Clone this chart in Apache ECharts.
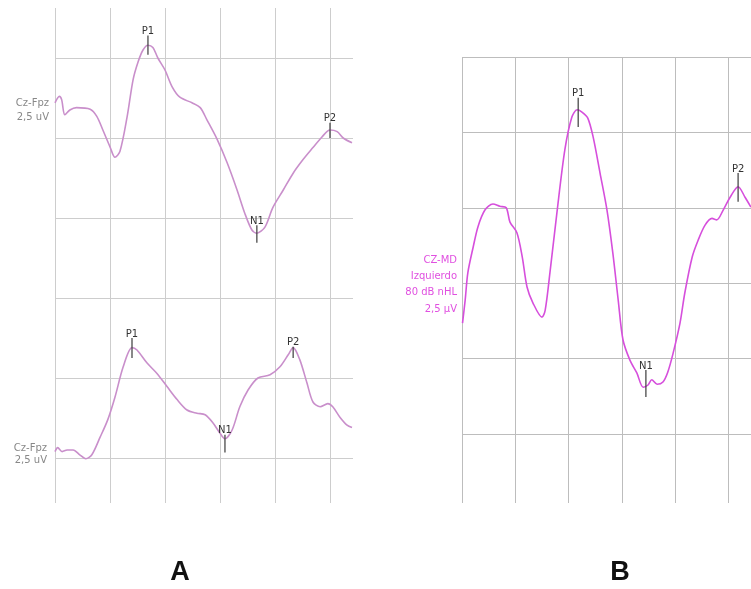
<!DOCTYPE html>
<html>
<head>
<meta charset="utf-8">
<script src="https://cdn.jsdelivr.net/npm/echarts@6/dist/echarts.min.js"></script>
<style>
html,body{margin:0;padding:0;background:#fff;}
#chart{width:751px;height:589px;}
</style>
</head>
<body>
<div id="chart"></div>
<script>
// ---- Data (x in grid divisions of time, y in grid divisions of amplitude) ----
// Panel A, upper trace (Cz-Fpz)
const aTopX = [0,0.08,0.12,0.18,0.27,0.39,0.64,0.76,0.87,1.00,1.09,1.18,1.31,1.42,1.51,1.60,1.69,1.78,1.87,2.00,2.13,2.27,2.49,2.64,2.76,2.95,3.13,3.31,3.45,3.58,3.67,3.82,3.96,4.15,4.33,4.51,4.69,4.85,5.00,5.13,5.24,5.40];
const aTopY = [4.44,4.52,4.48,4.29,4.35,4.38,4.36,4.27,4.10,3.89,3.76,3.83,4.26,4.73,4.95,5.10,5.16,5.13,5.00,4.85,4.64,4.51,4.44,4.38,4.23,3.98,3.69,3.35,3.06,2.85,2.81,2.89,3.13,3.35,3.56,3.73,3.88,4.01,4.10,4.08,4.00,3.94];
// Panel A, lower trace (Cz-Fpz)
const aBotX = [0,0.05,0.13,0.22,0.33,0.45,0.56,0.67,0.82,0.96,1.09,1.24,1.40,1.49,1.67,1.85,2.04,2.22,2.40,2.58,2.73,2.87,3.00,3.09,3.22,3.36,3.51,3.69,3.91,4.09,4.24,4.33,4.45,4.58,4.69,4.82,4.96,5.05,5.18,5.31,5.40];
const aBotY = [0.08,0.13,0.08,0.10,0.10,0.04,-0.01,0.04,0.26,0.48,0.76,1.14,1.38,1.35,1.19,1.06,0.89,0.73,0.60,0.56,0.54,0.44,0.31,0.24,0.35,0.64,0.85,1.00,1.04,1.14,1.29,1.38,1.23,0.94,0.70,0.64,0.68,0.64,0.51,0.41,0.38];
// Panel B trace (CZ-MD, Izquierdo, 80 dB nHL)
const bX = [0.01,0.06,0.11,0.21,0.30,0.43,0.58,0.71,0.83,0.90,1.03,1.13,1.22,1.33,1.50,1.56,1.65,1.78,1.93,2.06,2.16,2.25,2.36,2.46,2.59,2.72,2.83,2.93,3.02,3.15,3.28,3.40,3.49,3.56,3.66,3.77,3.86,3.96,4.09,4.18,4.32,4.43,4.56,4.69,4.78,4.90,5.03,5.18,5.31,5.42];
const bY = [1.47,1.78,2.14,2.48,2.75,2.97,3.05,3.02,3.00,2.81,2.67,2.35,1.95,1.74,1.55,1.64,2.14,2.93,3.77,4.20,4.30,4.27,4.19,3.94,3.46,2.97,2.40,1.78,1.25,0.98,0.81,0.62,0.65,0.72,0.66,0.69,0.82,1.07,1.47,1.87,2.35,2.57,2.77,2.86,2.84,2.97,3.14,3.28,3.14,3.01];

// Peak markers: name, x, tick top, tick bottom
const aTopPeakNames = ['P1','N1','P2'];
const aTopPeakX = [1.69,3.67,5.00];
const aTopPeakTop = [5.28,2.91,4.19];
const aTopPeakBot = [5.04,2.69,4.00];

const aBotPeakNames = ['P1','N1','P2'];
const aBotPeakX = [1.40,3.09,4.33];
const aBotPeakTop = [1.50,0.29,1.39];
const aBotPeakBot = [1.25,0.07,1.25];

const bPeakNames = ['P1','N1','P2'];
const bPeakX = [2.18,3.45,5.18];
const bPeakTop = [4.46,0.85,3.46];
const bPeakBot = [4.07,0.49,3.08];

// Axis extents (divisions)
const aXMax = 5.418, aYDivs = 5;
const bXMax = 5.422, bYDivs = 5;

// ---- Build ----
const zip = (xs, ys) => xs.map((x, i) => [x, ys[i]]);
const peaks = (names, xs, tops, bots) => names.map((n, i) => [xs[i], tops[i], bots[i]]);

const gridColorA = '#cdcdcd';
const gridColorB = '#bdbdbd';
const traceA = '#c98fcb';
const traceB = '#d64fdc';

function peakSeries(names, xs, tops, bots, xi, yi) {
  return {
    type: 'custom',
    xAxisIndex: xi, yAxisIndex: yi,
    clip: false, silent: true, z: 5,
    data: peaks(names, xs, tops, bots),
    renderItem: function (params, api) {
      const p1 = api.coord([api.value(0), api.value(1)]);
      const p2 = api.coord([api.value(0), api.value(2)]);
      return {
        type: 'group',
        children: [
          { type: 'line', shape: { x1: p1[0], y1: p1[1], x2: p2[0], y2: p2[1] },
            style: { stroke: '#4a4a4a', lineWidth: 1.3 } },
          { type: 'text', style: { text: names[params.dataIndex], x: p1[0], y: p1[1] + 1,
            align: 'center', verticalAlign: 'bottom', fill: '#333',
            font: '10px "DejaVu Sans"' } }
        ]
      };
    }
  };
}

function hiddenAxis(extra) {
  return Object.assign({
    type: 'value', axisLine: { show: false }, axisTick: { show: false },
    axisLabel: { show: false }, splitLine: { show: false }
  }, extra);
}

const option = {
  animation: false,
  backgroundColor: '#fff',
  grid: [
    { left: 55, top: 58, width: 298, height: 400 },   // A horizontal lines
    { left: 55, top: 8, width: 298, height: 495 },    // A vertical lines
    { left: 462, top: 57, width: 289, height: 377 },  // B horizontal lines
    { left: 462, top: 57, width: 289, height: 446 }   // B vertical lines
  ],
  xAxis: [
    hiddenAxis({ gridIndex: 0, min: 0, max: aXMax }),
    hiddenAxis({ gridIndex: 1, min: 0, max: aXMax, interval: 1,
      splitLine: { show: true, showMaxLine: false, lineStyle: { color: gridColorA, width: 1 } } }),
    hiddenAxis({ gridIndex: 2, min: 0, max: bXMax }),
    hiddenAxis({ gridIndex: 3, min: 0, max: bXMax, interval: 1,
      splitLine: { show: true, showMaxLine: false, lineStyle: { color: gridColorB, width: 1 } } })
  ],
  yAxis: [
    hiddenAxis({ gridIndex: 0, min: 0, max: aYDivs, interval: 1,
      splitLine: { show: true, lineStyle: { color: gridColorA, width: 1 } } }),
    hiddenAxis({ gridIndex: 1, min: 0, max: 1 }),
    hiddenAxis({ gridIndex: 2, min: 0, max: bYDivs, interval: 1,
      splitLine: { show: true, lineStyle: { color: gridColorB, width: 1 } } }),
    hiddenAxis({ gridIndex: 3, min: 0, max: 1 })
  ],
  series: [
    { type: 'line', xAxisIndex: 0, yAxisIndex: 0, data: zip(aTopX, aTopY), smooth: 0.3,
      showSymbol: false, clip: false, lineStyle: { color: traceA, width: 1.6 } },
    { type: 'line', xAxisIndex: 0, yAxisIndex: 0, data: zip(aBotX, aBotY), smooth: 0.3,
      showSymbol: false, clip: false, lineStyle: { color: traceA, width: 1.6 } },
    { type: 'line', xAxisIndex: 2, yAxisIndex: 2, data: zip(bX, bY), smooth: 0.3,
      showSymbol: false, clip: false, lineStyle: { color: traceB, width: 1.6 } },
    peakSeries(aTopPeakNames, aTopPeakX, aTopPeakTop, aTopPeakBot, 0, 0),
    peakSeries(aBotPeakNames, aBotPeakX, aBotPeakTop, aBotPeakBot, 0, 0),
    peakSeries(bPeakNames, bPeakX, bPeakTop, bPeakBot, 2, 2)
  ],
  graphic: [
    { type: 'text', x: 49, y: 96, style: { text: 'Cz-Fpz\n2,5 uV', align: 'right',
      fill: '#888', font: '10px "DejaVu Sans"', lineHeight: 14 } },
    { type: 'text', x: 47, y: 442, style: { text: 'Cz-Fpz\n2,5 uV', align: 'right',
      fill: '#888', font: '10px "DejaVu Sans"', lineHeight: 12.5 } },
    { type: 'text', x: 457, y: 252, style: { text: 'CZ-MD\nIzquierdo\n80 dB nHL\n2,5 µV', align: 'right',
      fill: '#e050e0', font: '10px "DejaVu Sans"', lineHeight: 16.3 } },
    { type: 'text', x: 180, y: 573, style: { text: 'A', align: 'center', verticalAlign: 'middle',
      fill: '#111', font: 'bold 27px "Liberation Sans"' } },
    { type: 'text', x: 620, y: 573, style: { text: 'B', align: 'center', verticalAlign: 'middle',
      fill: '#111', font: 'bold 27px "Liberation Sans"' } }
  ]
};

const chart = echarts.init(document.getElementById('chart'), null, { renderer: 'canvas' });
chart.setOption(option);
</script>
</body>
</html>
